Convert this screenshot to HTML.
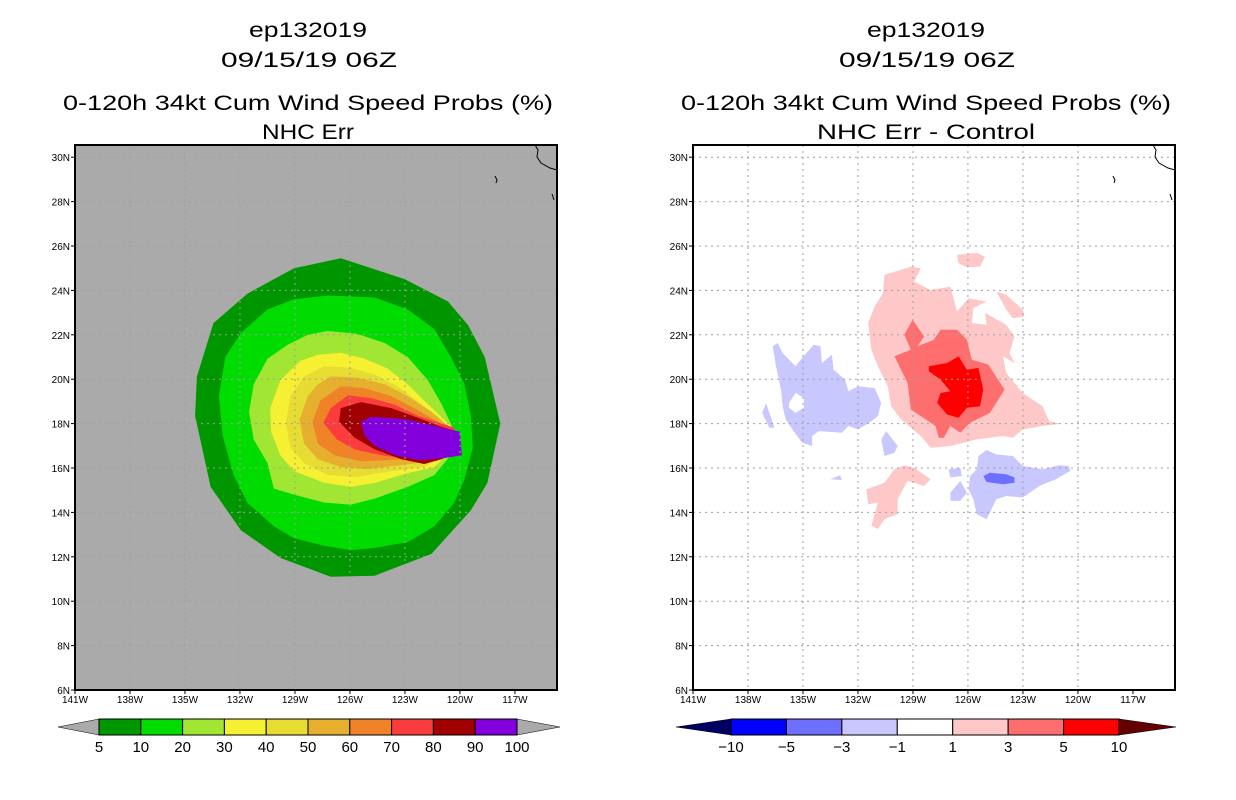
<!DOCTYPE html>
<html><head><meta charset="utf-8">
<style>
html,body{margin:0;padding:0;background:#fff;}
svg{display:block;}
text{font-family:"Liberation Sans",sans-serif;fill:#000;}
</style></head>
<body>
<svg id="chart" width="1236" height="800" viewBox="0 0 1236 800" xmlns="http://www.w3.org/2000/svg">
<rect width="1236" height="800" fill="#fff"/>
<g font-size="21">
<text x="308" y="37" text-anchor="middle" textLength="118" lengthAdjust="spacingAndGlyphs">ep132019</text>
<text x="309" y="67" text-anchor="middle" textLength="176" lengthAdjust="spacingAndGlyphs">09/15/19 06Z</text>
<text x="308" y="110" text-anchor="middle" textLength="490" lengthAdjust="spacingAndGlyphs">0-120h 34kt Cum Wind Speed Probs (%)</text>
<text x="308" y="139" text-anchor="middle" textLength="92" lengthAdjust="spacingAndGlyphs">NHC Err</text>
</g>
<g font-size="21">
<text x="926" y="37" text-anchor="middle" textLength="118" lengthAdjust="spacingAndGlyphs">ep132019</text>
<text x="927" y="67" text-anchor="middle" textLength="176" lengthAdjust="spacingAndGlyphs">09/15/19 06Z</text>
<text x="926" y="110" text-anchor="middle" textLength="490" lengthAdjust="spacingAndGlyphs">0-120h 34kt Cum Wind Speed Probs (%)</text>
<text x="926" y="139" text-anchor="middle" textLength="218" lengthAdjust="spacingAndGlyphs">NHC Err - Control</text>
</g>
<g id="leftPanel"></g>
<g id="rightPanel"></g>
<g id="leftBar"></g>
<g id="rightBar"></g>
</svg>
<script>
// ---- data ----
const latTicks = [6,8,10,12,14,16,18,20,22,24,26,28,30];
const lonTicks = [141,138,135,132,129,126,123,120,117];
const gridLons = [138,135,132,129,126,123,120];
const gridLats = [8,10,12,14,16,18,20,22,24,26,28,30];

const probLevels = ['5','10','20','30','40','50','60','70','80','90','100'];
const probColors = ['#009600','#00dc00','#a0e632','#f5f032','#e6dc32','#e6af2d','#f08228','#fa3c3c','#a00000','#8200dc'];
const diffLevels = ['-10','-5','-3','-1','1','3','5','10'];
const diffColors = ['#0000ff','#6e6eff','#c8c8ff','#ffffff','#ffc8c8','#ff6e6e','#ff0000'];

// probability contour polygons [lonW, lat]
const prob5 = [[126.5,25.45],[123.0,24.5],[120.65,23.5],[119.55,22.43],[118.65,21.0],[117.8,18.0],[118.5,15.33],[119.4,14.1],[121.55,12.13],[124.65,11.15],[127.05,11.1],[129.8,11.95],[131.95,13.2],[133.6,15.15],[134.45,18.35],[134.35,20.12],[133.45,22.52],[131.6,23.85],[129.05,25.0]];
const prob10 = [[127.2,23.77],[124.65,23.68],[122.85,23.14],[121.4,22.26],[120.5,21.0],[119.75,19.77],[119.4,18.35],[119.3,16.93],[119.75,15.5],[120.3,14.44],[121.4,13.37],[122.85,12.66],[124.65,12.4],[125.95,12.3],[127.4,12.5],[129.05,12.84],[130.15,13.37],[131.6,14.44],[132.35,15.68],[132.95,17.46],[133.15,19.24],[132.8,21.0],[131.95,22.08],[130.5,23.14],[129.05,23.6]];
const prob20 = [[128.3,22.0],[127.2,22.17],[125.6,22.04],[124.1,21.63],[122.85,21.0],[121.75,19.95],[121.0,18.88],[120.5,18.0],[120.1,17.28],[120.5,16.57],[121.4,15.68],[122.85,15.15],[124.65,14.62],[125.95,14.35],[127.4,14.44],[129.05,14.8],[130.15,15.07],[130.5,16.22],[131.25,17.28],[131.5,18.53],[131.25,19.77],[130.5,20.92],[129.4,21.55]];
const prob30 = [[127.75,21.1],[126.5,21.19],[125.2,20.92],[123.95,20.48],[122.85,19.77],[121.75,18.88],[120.75,18.08],[120.3,17.73],[120.5,16.75],[121.4,16.04],[122.85,15.77],[124.65,15.33],[125.95,15.15],[127.4,15.33],[129.05,15.86],[129.8,16.57],[130.3,17.64],[130.35,18.7],[129.8,19.95],[128.7,20.83]];
const prob40 = [[127.4,20.57],[125.95,20.52],[124.65,20.21],[123.4,19.68],[122.1,18.88],[121.0,18.17],[120.5,17.55],[120.85,16.57],[121.95,16.04],[123.75,15.86],[125.6,15.6],[127.2,15.68],[128.5,16.22],[129.25,16.93],[129.5,18.0],[129.25,19.24],[128.5,20.12]];
const prob50 = [[127.05,20.12],[125.6,20.07],[124.1,19.77],[122.85,19.24],[121.55,18.53],[120.65,17.9],[120.65,16.93],[121.55,16.3],[123.2,16.13],[125.05,15.95],[126.5,16.04],[127.75,16.39],[128.5,17.1],[128.75,18.17],[128.3,19.24],[127.75,19.77]];
const prob60 = [[126.5,19.68],[125.2,19.59],[123.75,19.24],[122.5,18.7],[121.2,18.08],[120.5,17.82],[120.65,16.93],[121.95,16.48],[123.75,16.36],[125.4,16.3],[126.85,16.57],[127.75,17.1],[128.05,18.08],[127.6,19.06]];
const prob70 = [[126.1,19.27],[124.85,19.15],[123.55,18.85],[122.3,18.35],[121.0,18.0],[120.3,17.82],[120.4,16.93],[121.55,16.57],[122.85,16.43],[124.3,16.57],[125.75,16.84],[126.7,17.28],[127.45,18.03],[127.05,18.7]];
const prob80 = [[126.5,18.7],[125.4,18.97],[123.75,18.7],[122.3,18.26],[121.0,17.85],[120.1,17.64],[120.1,16.75],[121.0,16.39],[121.95,16.18],[123.2,16.39],[124.65,16.84],[125.75,17.37],[126.6,18.08]];
const prob90 = [[125.4,18.08],[124.85,18.31],[122.85,18.2],[121.0,17.82],[120.0,17.64],[119.9,16.57],[121.0,16.43],[122.3,16.36],[123.55,16.57],[124.65,17.0],[125.2,17.46]];

// difference contour polygons [lonW, lat]
const diffPos1Main = [[130.55,24.7],[129.1,25.07],[128.57,25.0],[128.93,24.4],[128.04,24.02],[126.96,24.17],[126.6,23.05],[125.97,23.65],[124.98,23.5],[125.7,23.2],[125.79,22.53],[124.98,22.45],[125.07,22.98],[123.91,22.45],[123.46,21.93],[123.73,21.18],[123.46,20.73],[124.09,21.03],[123.91,20.28],[123.01,19.38],[121.93,18.78],[121.57,18.11],[120.94,17.99],[121.93,17.89],[123.01,17.74],[123.55,17.36],[124.09,17.44],[125.52,17.29],[126.96,16.99],[128.04,16.91],[128.57,17.44],[129.65,18.19],[130.19,18.78],[130.37,19.68],[130.91,20.58],[131.27,21.33],[131.45,22.53],[131.09,23.28],[130.64,23.87]];
const diffPos1Top = [[126.6,25.6],[125.52,25.7],[125.07,25.52],[125.34,25.07],[126.06,25.04],[126.51,25.22]];
const diffPos1East = [[124.45,23.95],[123.91,23.8],[123.01,23.13],[122.92,22.83],[123.55,22.75],[123.91,23.13]];
const diffPos1South = [[130.01,15.94],[129.47,16.12],[128.93,16.01],[128.04,15.49],[128.39,15.19],[128.93,15.34],[129.29,15.42],[129.83,14.59],[129.83,13.92],[130.55,13.7],[130.91,13.25],[131.27,13.4],[130.91,14.44],[131.45,14.37],[131.54,15.04],[130.55,15.34]];
const diffPos3 = [[129.02,22.68],[128.39,21.93],[128.75,21.48],[127.86,21.78],[127.5,22.23],[126.6,22.23],[126.06,21.78],[125.79,20.88],[124.89,20.66],[124.0,19.53],[124.8,18.48],[125.88,18.04],[126.42,17.59],[126.96,17.89],[127.32,17.36],[127.59,17.36],[127.77,17.89],[128.57,18.34],[129.11,18.63],[129.29,19.83],[130.01,21.03],[129.11,21.33],[129.47,22.0]];
const diffPos5 = [[128.13,20.58],[127.14,20.73],[126.51,21.03],[126.06,20.43],[125.43,20.51],[125.16,19.53],[125.34,18.78],[126.06,18.71],[126.51,18.26],[127.14,18.41],[127.68,18.93],[127.5,19.38],[126.96,19.46],[127.5,19.98],[128.13,20.36]];
const diffNeg1West = [[136.65,21.48],[136.38,21.63],[136.11,21.18],[135.4,20.58],[135.04,20.96],[134.41,21.55],[134.05,21.48],[133.96,20.73],[133.42,21.1],[133.33,20.43],[132.7,19.98],[132.52,19.46],[131.99,19.68],[131.09,19.6],[130.73,18.93],[130.91,18.34],[131.27,18.11],[131.99,17.74],[132.52,17.89],[132.88,17.59],[134.14,17.66],[134.5,17.44],[134.5,16.99],[135.04,17.14],[135.58,17.74],[135.94,18.19],[136.11,18.78],[136.2,19.53],[136.47,20.58]];
const diffNeg1Hole = [[135.76,18.93],[135.4,19.38],[134.95,19.16],[134.95,18.71],[135.4,18.48],[135.76,18.71]];
const diffNeg1Small1 = [[137.01,18.93],[136.56,17.81],[136.83,17.81],[137.23,18.48]];
const diffNeg1Small2 = [[130.73,17.29],[130.46,17.66],[129.83,16.99],[130.01,16.69],[130.55,16.54]];
const diffNeg1Small3 = [[133.51,15.49],[132.97,15.67],[132.88,15.46]];
const diffNeg1East = [[125.43,16.54],[124.98,16.81],[124.45,16.61],[123.55,16.54],[123.01,16.09],[121.93,15.94],[121.03,16.12],[120.5,16.09],[120.41,15.87],[121.21,15.49],[122.11,15.19],[123.01,14.67],[123.91,14.74],[124.45,14.59],[124.98,13.7],[125.52,13.92],[125.7,14.59],[125.97,15.04],[125.88,15.64],[125.52,15.94]];
const diffNeg1Small4 = [[127.05,15.94],[126.42,16.01],[126.33,15.64],[126.96,15.57]];
const diffNeg1Small5 = [[126.96,14.89],[126.42,15.42],[126.06,14.89],[126.42,14.52],[126.96,14.52]];
const diffNeg3 = [[125.16,15.64],[124.8,15.79],[123.91,15.72],[123.46,15.57],[123.46,15.34],[124.09,15.27],[124.98,15.37]];

// ---- axes ----
const NS = 'http://www.w3.org/2000/svg';
const TOP = 145, BOT = 690, W = 482;
function xScale(x0){ return lon => x0 + (141 - lon) * 18.33; }
function yScale(lat){ return BOT - (lat - 6) * 22.2; }
function mk(tag, attrs, parent){
  const e = document.createElementNS(NS, tag);
  for (const k in attrs) e.setAttribute(k, attrs[k]);
  parent.appendChild(e);
  return e;
}
function pts(poly, xs){ return 'M' + poly.map(p => xs(p[0]).toFixed(1) + ',' + yScale(p[1]).toFixed(1)).join('L') + 'Z'; }

function drawPanel(g, x0, bg, layers, prefix){
  const xs = xScale(x0);
  const clipId = prefix + '-clip';
  const defs = mk('defs', {}, g);
  const cp = mk('clipPath', {id: clipId}, defs);
  mk('rect', {x: x0, y: TOP, width: W, height: BOT - TOP}, cp);
  const bgRect = mk('rect', {x: x0, y: TOP, width: W, height: BOT - TOP, fill: bg}, g);
  
  
  const shade = mk('g', {'clip-path': 'url(#' + clipId + ')'}, g);
  
  
  layers.forEach(L => {
    const d = L.polys.map(p => pts(p, xs)).join(' ');
    const p = mk('path', {d: d, fill: L.color, 'fill-rule': 'evenodd'}, shade);
    
    
  });
  // grid
  const grid = mk('g', {stroke: '#a0a0a0', 'stroke-width': 1, 'stroke-dasharray': '2,4'}, g);
  
  
  gridLons.forEach(l => { mk('line', {x1: xs(l), x2: xs(l), y1: TOP, y2: BOT}, grid); });
  gridLats.forEach(l => { mk('line', {x1: x0, x2: x0 + W, y1: yScale(l), y2: yScale(l)}, grid); });
  // coastline
  const coast = mk('path', {d: 'M' + (x0 + 460) + ',145 L' + (x0 + 463) + ',150 L' + (x0 + 462) + ',157 L' + (x0 + 466) + ',163 L' + (x0 + 475) + ',168 L' + (x0 + 482) + ',170 M' + (x0 + 420) + ',176 l2,4 l-1,3 M' + (x0 + 477) + ',194 l2,6', fill: 'none', stroke: '#000', 'stroke-width': 1}, g);
  
  
  const frame = mk('rect', {x: x0, y: TOP, width: W, height: BOT - TOP, fill: 'none', stroke: '#000', 'stroke-width': 2}, g);
  
  
  // ticks + labels
  const ax = mk('g', {'font-size': 10}, g);
  
  
  latTicks.forEach(l => {
    const y = yScale(l);
    mk('line', {x1: x0 - 4, x2: x0, y1: y, y2: y, stroke: '#000'}, ax);
    const t = mk('text', {x: x0 - 5, y: y + 4, 'text-anchor': 'end'}, ax);
    t.textContent = l + 'N';
    
    
  });
  lonTicks.forEach(l => {
    const x = xs(l);
    mk('line', {x1: x, x2: x, y1: BOT, y2: BOT + 4, stroke: '#000'}, ax);
    const t = mk('text', {x: x, y: BOT + 13, 'text-anchor': 'middle'}, ax);
    t.textContent = l + 'W';
    
    
  });
}

const probLayers = [
  {name: 'prob-5-10', color: probColors[0], polys: [prob5]},
  {name: 'prob-10-20', color: probColors[1], polys: [prob10]},
  {name: 'prob-20-30', color: probColors[2], polys: [prob20]},
  {name: 'prob-30-40', color: probColors[3], polys: [prob30]},
  {name: 'prob-40-50', color: probColors[4], polys: [prob40]},
  {name: 'prob-50-60', color: probColors[5], polys: [prob50]},
  {name: 'prob-60-70', color: probColors[6], polys: [prob60]},
  {name: 'prob-70-80', color: probColors[7], polys: [prob70]},
  {name: 'prob-80-90', color: probColors[8], polys: [prob80]},
  {name: 'prob-90-100', color: probColors[9], polys: [prob90]}
];
const diffLayers = [
  {name: 'diff-pos-1-3', color: diffColors[4], polys: [diffPos1Main, diffPos1Top, diffPos1East, diffPos1South]},
  {name: 'diff-pos-3-5', color: diffColors[5], polys: [diffPos3]},
  {name: 'diff-pos-5-10', color: diffColors[6], polys: [diffPos5]},
  {name: 'diff-neg-1-3', color: diffColors[2], polys: [diffNeg1West.concat([]), diffNeg1Small1, diffNeg1Small2, diffNeg1Small3, diffNeg1East, diffNeg1Small4, diffNeg1Small5]},
  {name: 'diff-neg-1-3-hole', color: '#ffffff', polys: [diffNeg1Hole]},
  {name: 'diff-neg-3-5', color: diffColors[1], polys: [diffNeg3]}
];
drawPanel(document.getElementById('leftPanel'), 75, '#aaaaaa', probLayers, 'left');
drawPanel(document.getElementById('rightPanel'), 693, '#ffffff', diffLayers, 'right');

// ---- colorbars ----
function drawBar(g, x0, x1, tipL, tipR, colors, labels, triL, triR, prefix){
  const y0 = 719, y1 = 735, ym = 727;
  const n = colors.length, w = (x1 - x0) / n;
  const tl = mk('path', {d: 'M' + tipL + ',' + ym + 'L' + x0 + ',' + y0 + 'L' + x0 + ',' + y1 + 'Z', fill: triL, stroke: '#000', 'stroke-width': 0.5}, g);
  
  
  const tr = mk('path', {d: 'M' + tipR + ',' + ym + 'L' + x1 + ',' + y0 + 'L' + x1 + ',' + y1 + 'Z', fill: triR, stroke: '#000', 'stroke-width': 0.5}, g);
  
  
  colors.forEach((c, i) => {
    const r = mk('rect', {x: x0 + i * w, y: y0, width: w, height: y1 - y0, fill: c, stroke: '#000', 'stroke-width': 1}, g);
    
    
  });
  labels.forEach((l, i) => {
    const t = mk('text', {x: x0 + i * w, y: 752, 'text-anchor': 'middle', 'font-size': 15}, g);
    t.textContent = l.replace('-', '\u2212');
    
    
  });
}
drawBar(document.getElementById('leftBar'), 99, 517, 58, 560, probColors, probLevels, '#aaaaaa', '#aaaaaa', 'left-colorbar');
drawBar(document.getElementById('rightBar'), 731, 1119, 676, 1176, diffColors, diffLevels, '#000064', '#640000', 'right-colorbar');
</script>
</body></html>
